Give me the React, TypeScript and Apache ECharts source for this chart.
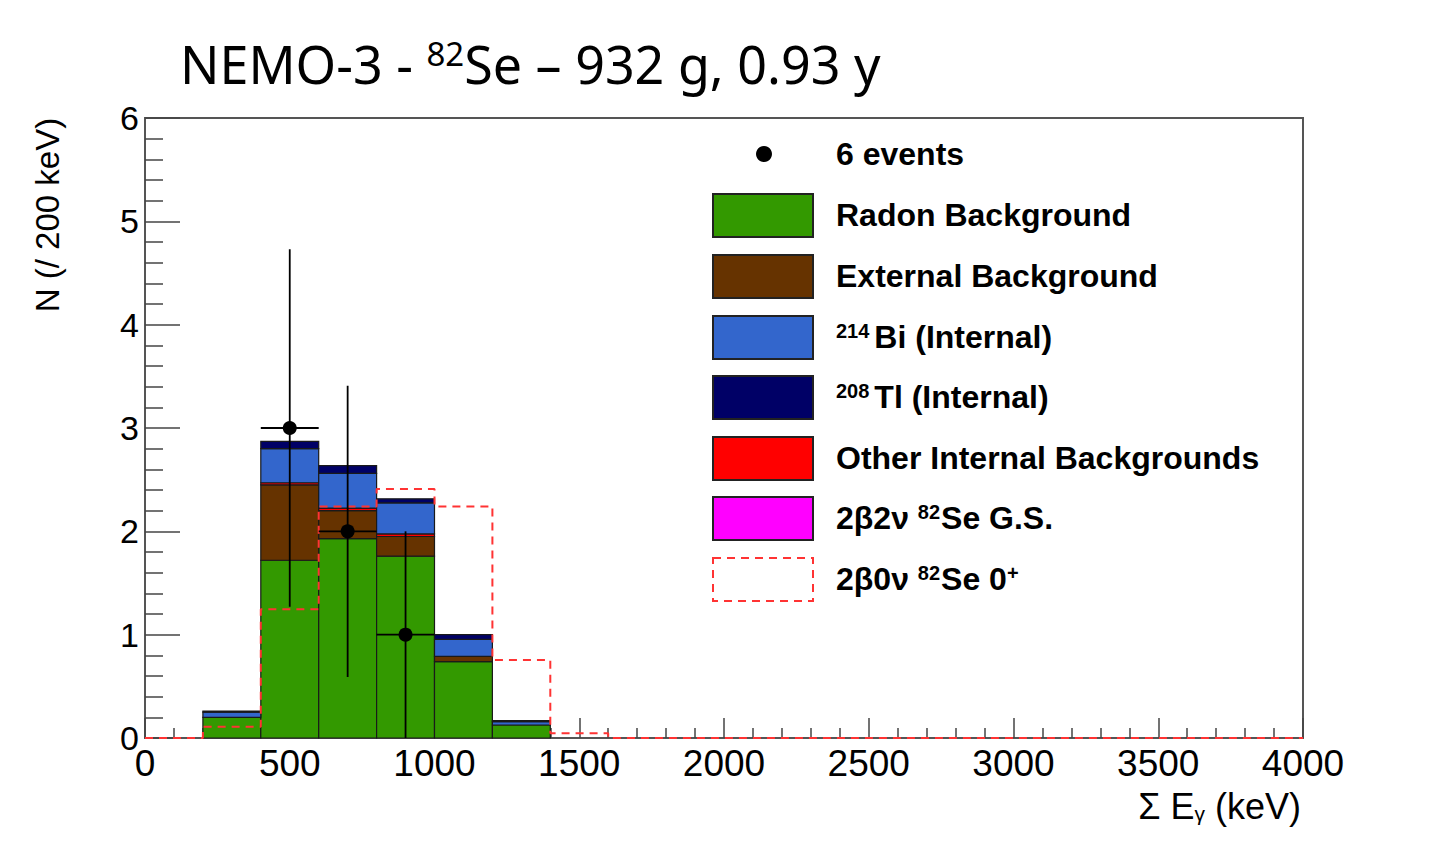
import React, { useEffect, useRef } from "react";
import * as echarts from "echarts";

// ---- data ----
const binLow = [200, 400, 600, 800, 1000, 1200];
const binWidth = 200;
const radon = [0.2, 1.72, 1.93, 1.76, 0.74, 0.126];
const external = [0.0, 0.73, 0.27, 0.19, 0.05, 0.0];
const otherInternal = [0.0, 0.02, 0.025, 0.025, 0.0, 0.0];
const se2nu = [0, 0, 0, 0, 0, 0];
const bi214 = [0.05, 0.33, 0.335, 0.3, 0.165, 0.032];
const tl208 = [0.01, 0.07, 0.075, 0.04, 0.045, 0.01];

const signalBinLow = [0, 200, 400, 600, 800, 1000, 1200, 1400, 1600];
const signal = [0, 0.11, 1.245, 2.24, 2.41, 2.24, 0.755, 0.045, 0];
const xMax = 4000;

const eventsX = [500, 700, 900];
const eventsY = [3, 2, 1];
const eventsErr = [1.73, 1.41, 1.0];
const eventsHalfWidth = 100;

const layerNames = [
  "Radon Background",
  "External Background",
  "Other Internal Backgrounds",
  "2β2ν 82Se G.S.",
  "214Bi (Internal)",
  "208Tl (Internal)",
];
const layerValues = [radon, external, otherInternal, se2nu, bi214, tl208];
const layerColors = ["#339900", "#663300", "#ff0000", "#ff00ff", "#3366cc", "#000066"];

const FONT = "Liberation Sans, Arial, Helvetica, sans-serif";

function buildStacks() {
  const base = binLow.map(() => 0);
  return layerValues.map((vals) =>
    binLow.map((x0, i) => {
      const y0 = base[i];
      const y1 = y0 + vals[i];
      base[i] = y1;
      return [x0, x0 + binWidth, y0, y1];
    })
  );
}

export default function App() {
  const ref = useRef<HTMLDivElement>(null);

  useEffect(() => {
    if (!ref.current) return;
    const chart = echarts.init(ref.current, undefined, { renderer: "svg" });
    const stacks = buildStacks();

    const histSeries = stacks.map((data, k) => ({
      type: "custom",
      name: layerNames[k],
      data,
      z: 2,
      renderItem: (params: any, api: any) => {
        const x0 = api.value(0);
        const x1 = api.value(1);
        const y0 = api.value(2);
        const y1 = api.value(3);
        if (!(y1 - y0 > 0)) return null;
        const p0 = api.coord([x0, y1]);
        const p1 = api.coord([x1, y0]);
        return {
          type: "rect",
          shape: { x: p0[0], y: p0[1], width: p1[0] - p0[0], height: p1[1] - p0[1] },
          style: { fill: layerColors[k], stroke: "#1a1a1a", lineWidth: 1.2 },
        };
      },
    }));

    const signalData: number[][] = signalBinLow.map((x, i) => [x, signal[i]]);
    signalData.push([xMax, 0]);

    const eventsData = eventsX.map((x, i) => [x, eventsY[i], eventsErr[i], eventsHalfWidth]);

    const labelBold = { fontFamily: FONT, fontWeight: "bold" as const, fontSize: 32, fill: "#000" };
    const supBold = {
      fontFamily: FONT,
      fontWeight: "bold" as const,
      fontSize: 20,
      verticalAlign: "top" as const,
      padding: [0, 5, 0, 0],
    };
    const supTight = { ...supBold, padding: [0, 1, 0, 0] };
    const mainBold = { fontFamily: FONT, fontWeight: "bold" as const, fontSize: 32 };

    const boxX = 713;
    const boxW = 100;
    const boxH = 43;
    const rowTops = [194, 255, 316, 376, 437, 497, 558];
    const boxFills = ["#339900", "#663300", "#3366cc", "#000066", "#ff0000", "#ff00ff"];
    const legendTexts = [
      "{m|Radon Background}",
      "{m|External Background}",
      "{s|214}{m|Bi (Internal)}",
      "{s|208}{m|Tl (Internal)}",
      "{m|Other Internal Backgrounds}",
      "{m|2β2ν }{t|82}{m|Se G.S.}",
      "{m|2β0ν }{t|82}{m|Se 0}{t|+}",
    ];

    const graphics: any[] = [];
    graphics.push({
      type: "circle",
      shape: { cx: 764, cy: 154, r: 8 },
      style: { fill: "#000" },
    });
    graphics.push({
      type: "text",
      x: 836,
      y: 154,
      style: { ...labelBold, text: "6 events", verticalAlign: "middle" },
    });
    rowTops.forEach((top, i) => {
      if (i < 6) {
        graphics.push({
          type: "rect",
          shape: { x: boxX, y: top, width: boxW, height: boxH },
          style: { fill: boxFills[i], stroke: "#222", lineWidth: 2 },
        });
      } else {
        graphics.push({
          type: "rect",
          shape: { x: boxX, y: top, width: boxW, height: boxH },
          style: { fill: "none", stroke: "#ff3333", lineWidth: 2, lineDash: [8, 6] },
        });
      }
      graphics.push({
        type: "text",
        x: 836,
        y: top + boxH / 2 - 1,
        style: {
          text: legendTexts[i],
          verticalAlign: "middle",
          fill: "#000",
          rich: { m: mainBold, s: supBold, t: supTight },
        },
      });
    });

    // title
    graphics.push({
      type: "text",
      x: 180,
      y: 63,
      style: {
        text: "{a|NEMO-3 - }{s|82}{a|Se – 932 g, 0.93 y}",
        verticalAlign: "middle",
        fill: "#000",
        rich: {
          a: { fontFamily: "Noto Sans, sans-serif", fontSize: 52 },
          s: { fontFamily: "Noto Sans, sans-serif", fontSize: 33, verticalAlign: "top" },
        },
      },
    });

    // y axis name
    graphics.push({
      type: "text",
      x: 47,
      y: 215,
      rotation: Math.PI / 2,
      style: {
        text: "N (/ 200 keV)",
        fontFamily: FONT,
        fontSize: 33,
        fill: "#000",
        align: "center",
        verticalAlign: "middle",
      },
    });

    // x axis name
    graphics.push({
      type: "text",
      x: 1301,
      y: 806,
      style: {
        text: "{m|Σ E}{g|γ}{m| (keV)}",
        align: "right",
        verticalAlign: "middle",
        fill: "#000",
        rich: {
          m: { fontFamily: FONT, fontSize: 36 },
          g: { fontFamily: FONT, fontSize: 21, verticalAlign: "bottom" },
        },
      },
    });

    const axisLineStyle = { color: "#555", width: 2 };
    const tickStyle = { color: "#444", width: 1.5 };

    chart.setOption({
      animation: false,
      backgroundColor: "#ffffff",
      grid: {
        left: 145,
        top: 118,
        width: 1158,
        height: 620,
        show: true,
        borderColor: "#555",
        borderWidth: 2,
        backgroundColor: "transparent",
      },
      xAxis: {
        type: "value",
        min: 0,
        max: xMax,
        interval: 500,
        axisLine: { show: true, lineStyle: axisLineStyle },
        axisTick: { show: true, inside: true, length: 20, lineStyle: tickStyle },
        minorTick: { show: true, splitNumber: 5, length: 10, lineStyle: tickStyle },
        splitLine: { show: false },
        axisLabel: {
          fontSize: 37,
          color: "#000",
          margin: 7,
          fontFamily: FONT,
          formatter: (v: number) => String(v),
        },
      },
      yAxis: {
        type: "value",
        min: 0,
        max: 6,
        interval: 1,
        axisLine: { show: true, lineStyle: axisLineStyle },
        axisTick: { show: true, inside: true, length: 35, lineStyle: tickStyle },
        minorTick: { show: true, splitNumber: 5, length: 18, lineStyle: tickStyle },
        splitLine: { show: false },
        axisLabel: { fontSize: 34, color: "#000", margin: 6, fontFamily: FONT },
      },
      series: [
        ...histSeries,
        {
          type: "line",
          name: "2β0ν 82Se 0+",
          data: signalData,
          step: "end",
          showSymbol: false,
          symbol: "none",
          clip: false,
          z: 5,
          lineStyle: { color: "#ff3333", width: 2, type: [8, 6] },
        },
        {
          type: "custom",
          name: "6 events",
          data: eventsData,
          z: 6,
          renderItem: (params: any, api: any) => {
            const x = api.value(0);
            const y = api.value(1);
            const e = api.value(2);
            const hw = api.value(3);
            const c = api.coord([x, y]);
            const top = api.coord([x, y + e]);
            const bot = api.coord([x, Math.max(0, y - e)]);
            const l = api.coord([x - hw, y]);
            const r = api.coord([x + hw, y]);
            return {
              type: "group",
              children: [
                { type: "line", shape: { x1: c[0], y1: top[1], x2: c[0], y2: bot[1] }, style: { stroke: "#000", lineWidth: 1.8 } },
                { type: "line", shape: { x1: l[0], y1: c[1], x2: r[0], y2: c[1] }, style: { stroke: "#000", lineWidth: 1.8 } },
                { type: "circle", shape: { cx: c[0], cy: c[1], r: 7 }, style: { fill: "#000" } },
              ],
            };
          },
        },
      ],
      graphic: graphics,
    });

    return () => {
      chart.dispose();
    };
  }, []);

  return (
    <div
      ref={ref}
      style={{ position: "absolute", left: 0, top: 0, width: 1454, height: 863 }}
    />
  );
}
